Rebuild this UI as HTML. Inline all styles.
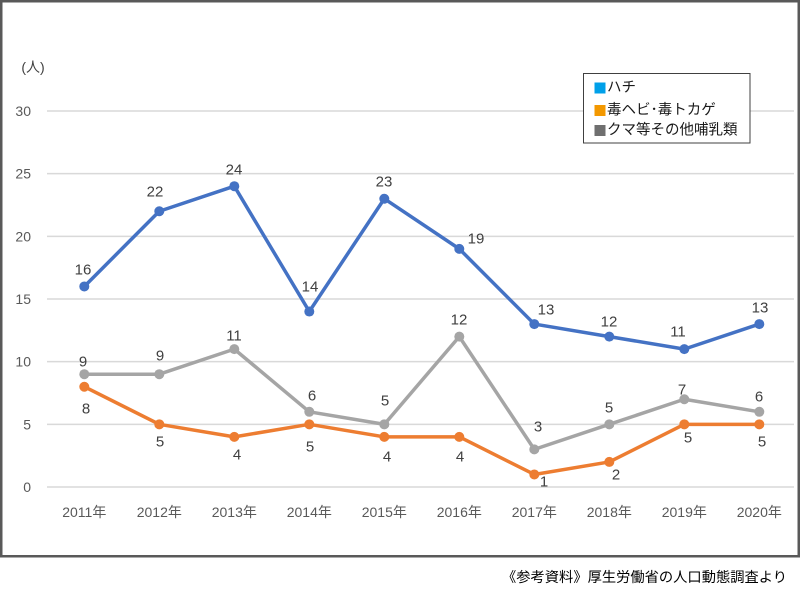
<!DOCTYPE html>
<html>
<head>
<meta charset="utf-8">
<style>
  html, body { margin:0; padding:0; background:#fff; }
  body { width:800px; height:600px; overflow:hidden; }
  svg { display:block; font-family:"Liberation Sans","Noto Sans CJK JP",sans-serif; }
  .lbl { font-size:15px; fill:#404040; text-anchor:middle; dominant-baseline:central; }
  .yt { font-size:14px; fill:#595959; text-anchor:end; dominant-baseline:central; }
  .xt { font-size:14px; fill:#595959; text-anchor:middle; dominant-baseline:central; }
  .lg { font-size:14.5px; fill:#1a1a1a; dominant-baseline:central; }
</style>
</head>
<body>
<svg width="800" height="600" viewBox="0 0 800 600" xmlns="http://www.w3.org/2000/svg">
  <rect x="0" y="0" width="800" height="600" fill="#fff"/>
  <!-- gridlines -->
  <g stroke="#D9D9D9" stroke-width="1.5">
    <line x1="47" y1="111" x2="794" y2="111"/>
    <line x1="47" y1="173.67" x2="794" y2="173.67"/>
    <line x1="47" y1="236.33" x2="794" y2="236.33"/>
    <line x1="47" y1="299" x2="794" y2="299"/>
    <line x1="47" y1="361.67" x2="794" y2="361.67"/>
    <line x1="47" y1="424.33" x2="794" y2="424.33"/>
    <line x1="47" y1="487" x2="794" y2="487"/>
  </g>
  <!-- y ticks -->
  <text class="yt" x="31" y="111">30</text>
  <text class="yt" x="31" y="173.67">25</text>
  <text class="yt" x="31" y="236.33">20</text>
  <text class="yt" x="31" y="299">15</text>
  <text class="yt" x="31" y="361.67">10</text>
  <text class="yt" x="31" y="424.33">5</text>
  <text class="yt" x="31" y="487">0</text>
  <text x="33" y="67" style="font-size:14px;fill:#404040;text-anchor:middle;dominant-baseline:central;">(人)</text>
  <!-- x ticks -->
  <text class="xt" x="84.3" y="512">2011年</text>
  <text class="xt" x="159.3" y="512">2012年</text>
  <text class="xt" x="234.3" y="512">2013年</text>
  <text class="xt" x="309.3" y="512">2014年</text>
  <text class="xt" x="384.3" y="512">2015年</text>
  <text class="xt" x="459.3" y="512">2016年</text>
  <text class="xt" x="534.3" y="512">2017年</text>
  <text class="xt" x="609.3" y="512">2018年</text>
  <text class="xt" x="684.3" y="512">2019年</text>
  <text class="xt" x="759.3" y="512">2020年</text>

  <!-- blue series -->
  <polyline fill="none" stroke="#4472C4" stroke-width="3.5" stroke-linejoin="round"
    points="84.3,286.47 159.3,211.27 234.3,186.2 309.3,311.53 384.3,198.73 459.3,248.87 534.3,324.07 609.3,336.6 684.3,349.13 759.3,324.07"/>
  <g fill="#4472C4">
    <circle cx="84.3" cy="286.47" r="5"/><circle cx="159.3" cy="211.27" r="5"/><circle cx="234.3" cy="186.2" r="5"/>
    <circle cx="309.3" cy="311.53" r="5"/><circle cx="384.3" cy="198.73" r="5"/><circle cx="459.3" cy="248.87" r="5"/>
    <circle cx="534.3" cy="324.07" r="5"/><circle cx="609.3" cy="336.6" r="5"/><circle cx="684.3" cy="349.13" r="5"/>
    <circle cx="759.3" cy="324.07" r="5"/>
  </g>
  <!-- orange series -->
  <polyline fill="none" stroke="#ED7D31" stroke-width="3.5" stroke-linejoin="round"
    points="84.3,386.73 159.3,424.33 234.3,436.87 309.3,424.33 384.3,436.87 459.3,436.87 534.3,474.47 609.3,461.93 684.3,424.33 759.3,424.33"/>
  <g fill="#ED7D31">
    <circle cx="84.3" cy="386.73" r="5"/><circle cx="159.3" cy="424.33" r="5"/><circle cx="234.3" cy="436.87" r="5"/>
    <circle cx="309.3" cy="424.33" r="5"/><circle cx="384.3" cy="436.87" r="5"/><circle cx="459.3" cy="436.87" r="5"/>
    <circle cx="534.3" cy="474.47" r="5"/><circle cx="609.3" cy="461.93" r="5"/><circle cx="684.3" cy="424.33" r="5"/>
    <circle cx="759.3" cy="424.33" r="5"/>
  </g>
  <!-- gray series -->
  <polyline fill="none" stroke="#A5A5A5" stroke-width="3.5" stroke-linejoin="round"
    points="84.3,374.2 159.3,374.2 234.3,349.13 309.3,411.8 384.3,424.33 459.3,336.6 534.3,449.4 609.3,424.33 684.3,399.27 759.3,411.8"/>
  <g fill="#A5A5A5">
    <circle cx="84.3" cy="374.2" r="5"/><circle cx="159.3" cy="374.2" r="5"/><circle cx="234.3" cy="349.13" r="5"/>
    <circle cx="309.3" cy="411.8" r="5"/><circle cx="384.3" cy="424.33" r="5"/><circle cx="459.3" cy="336.6" r="5"/>
    <circle cx="534.3" cy="449.4" r="5"/><circle cx="609.3" cy="424.33" r="5"/><circle cx="684.3" cy="399.27" r="5"/>
    <circle cx="759.3" cy="411.8" r="5"/>
  </g>

  <!-- blue labels -->
  <text class="lbl" x="83" y="270">16</text>
  <text class="lbl" x="155" y="192">22</text>
  <text class="lbl" x="234" y="170">24</text>
  <text class="lbl" x="310" y="287">14</text>
  <text class="lbl" x="384" y="182">23</text>
  <text class="lbl" x="476" y="239">19</text>
  <text class="lbl" x="546" y="310">13</text>
  <text class="lbl" x="609" y="322">12</text>
  <text class="lbl" x="678" y="332">11</text>
  <text class="lbl" x="760" y="308">13</text>
  <!-- gray labels -->
  <text class="lbl" x="83" y="362">9</text>
  <text class="lbl" x="160" y="356">9</text>
  <text class="lbl" x="234" y="336">11</text>
  <text class="lbl" x="312" y="396">6</text>
  <text class="lbl" x="385" y="401">5</text>
  <text class="lbl" x="459" y="320">12</text>
  <text class="lbl" x="538" y="427">3</text>
  <text class="lbl" x="609" y="408">5</text>
  <text class="lbl" x="682" y="390">7</text>
  <text class="lbl" x="759" y="397">6</text>
  <!-- orange labels -->
  <text class="lbl" x="86" y="409">8</text>
  <text class="lbl" x="160" y="442">5</text>
  <text class="lbl" x="237" y="455">4</text>
  <text class="lbl" x="310" y="447">5</text>
  <text class="lbl" x="387" y="457">4</text>
  <text class="lbl" x="460" y="457">4</text>
  <text class="lbl" x="544" y="482">1</text>
  <text class="lbl" x="616" y="475">2</text>
  <text class="lbl" x="688" y="438">5</text>
  <text class="lbl" x="762" y="442">5</text>

  <!-- legend -->
  <rect x="583.5" y="73.5" width="166.5" height="69.5" fill="#fff" stroke="#404040" stroke-width="1"/>
  <rect x="594.5" y="82.5" width="11" height="11" fill="#00A0E9"/>
  <rect x="594.5" y="105" width="11" height="11" fill="#F39800"/>
  <rect x="594.5" y="125" width="11" height="11" fill="#6F6F6F"/>
  <text class="lg" x="607" y="88">ハチ</text>
  <text class="lg" x="607" y="110.5">毒ヘビ･毒トカゲ</text>
  <text class="lg" x="607" y="130.5">クマ等その他哺乳類</text>

  <!-- frame -->
  <rect x="1.25" y="1.25" width="797.5" height="555" fill="none" stroke="#595959" stroke-width="2.5"/>

  <!-- footer -->
  <text x="502" y="577" textLength="285" lengthAdjust="spacingAndGlyphs" style="font-size:14px;fill:#000;dominant-baseline:central;">《参考資料》厚生労働省の人口動態調査より</text>
</svg>
</body>
</html>
